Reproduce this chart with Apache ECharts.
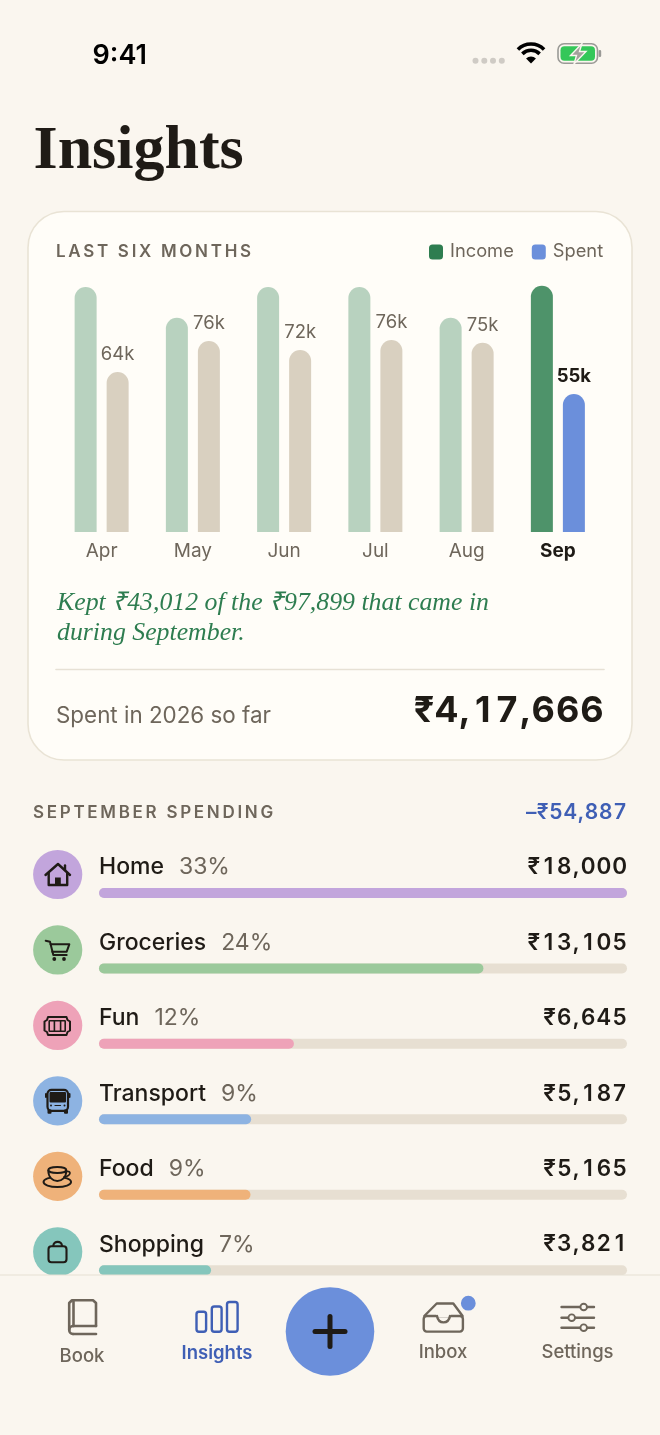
<!DOCTYPE html>
<html><head><meta charset="utf-8"><title>Insights</title>
<style>html,body{margin:0;padding:0;background:#FAF6EF}#c{width:660px;height:1435px}</style>
<script src="https://cdn.jsdelivr.net/npm/echarts@6/dist/echarts.min.js"></script>
</head><body><div id="c"></div>
<script>
const months = ['Apr','May','Jun','Jul','Aug','Sep'];
const income = [97.4,85.2,97.4,97.4,85.2,97.9];
const spent = [63.6,75.9,72.4,76.3,75.2,54.9];
const categories = ['Home','Groceries','Fun','Transport','Food','Shopping'];
const shares = [33,24,12,9,9,7];
const amounts = [18000,13105,6645,5187,5165,3821];
const amountLabels = ['₹18,000','₹13,105','₹6,645','₹5,187','₹5,165','₹3,821'];
const catColors = ['#C2A5DC','#9BC99B','#EEA2B8','#8DB3E2','#EFB27A','#85C6BC'];

const BG='#FAF6EF',INK='#1F1B16',MUTE='#6E665B',BLUE='#6B8FDB',DEEP='#3F5FB5',GREEN='#2E7D50',TRACK='#E7DFD2';
const F='Inter, sans-serif';

// Tracking for the caps headings; tabular figures with tracking for the money amounts
const rawFill = CanvasRenderingContext2D.prototype.fillText;
CanvasRenderingContext2D.prototype.fillText = function(t,x,y,m){
  if(/^[A-Z ]{8,}$/.test(t)){
    this.letterSpacing='2.7px';
    rawFill.call(this,t,x,y);
    this.letterSpacing='0px';
    return;
  }
  if(/^[–₹]/.test(t)){
    const big=/3\dpx/.test(this.font);
    const ls=big?0:t[0]==='–'?0.4:0.9, dw=this.measureText('0').width, chars=[...t];
    const adv=chars.map(c=>(/\d/.test(c)?dw:this.measureText(c).width)+ls);
    const total=adv.reduce((a,b)=>a+b,0)-ls;
    const al=this.textAlign;
    let px=al==='right'||al==='end'?x-total:al==='center'?x-total/2:x;
    this.textAlign='left';
    chars.forEach((c,i)=>{
      const w=this.measureText(c).width;
      rawFill.call(this,c,px+(adv[i]-ls-w)/2,y);
      px+=adv[i];
    });
    this.textAlign=al;
    return;
  }
  return m===undefined ? rawFill.call(this,t,x,y) : rawFill.call(this,t,x,y,m);
};

const els=[];
function add(o,z){o.z=z===undefined?50:z;els.push(o);return o;}
function txt(text,x,y,font,fill,align,z){
  add({type:'text',silent:true,style:{text,x,y,font,fill,textAlign:align||'left',align:align||'left',textVerticalAlign:'middle',verticalAlign:'middle'}},z);
}
function st(c,w){return {fill:'none',stroke:c,lineWidth:w||2,lineCap:'round',lineJoin:'round'};}
function poly(pts,c,w,z){add({type:'polyline',silent:true,shape:{points:pts},style:st(c,w)},z);}
function line(a,b,c,d,col,w,z){add({type:'line',silent:true,shape:{x1:a,y1:b,x2:c,y2:d},style:st(col,w)},z);}
function box(x,y,w,h,r,c,lw,z){add({type:'rect',silent:true,shape:{x,y,width:w,height:h,r},style:st(c,lw)},z);}
function solid(x,y,w,h,r,c,z){add({type:'rect',silent:true,shape:{x,y,width:w,height:h,r},style:{fill:c}},z);}
function disc(x,y,r,c,z){add({type:'circle',silent:true,shape:{cx:x,cy:y,r},style:{fill:c}},z);}
function curve(a,b,c,d,e,f,g,h,col,w,z,fill){const s=st(col,w);if(fill)s.fill=fill;add({type:'bezierCurve',silent:true,shape:{x1:a,y1:b,cpx1:c,cpy1:d,cpx2:e,cpy2:f,x2:g,y2:h},style:s},z);}

// Card
add({type:'rect',silent:true,shape:{x:28,y:211.5,width:604,height:548.5,r:36},style:{fill:'#FFFDF8',stroke:'#E9E3D5',lineWidth:1.6}},0);
// Status bar
txt('9:41',92.5,55.5,'600 27px '+F,'#000');
[475.5,484.3,493,501.8].forEach(x=>disc(x,60.8,3,'#CFCBC5'));
[18.5,12.2].forEach(r=>add({type:'arc',silent:true,shape:{cx:531,cy:62.5,r,startAngle:-Math.PI*0.75,endAngle:-Math.PI*0.25,clockwise:true},style:{fill:'none',stroke:'#000',lineWidth:3.6}}));
add({type:'sector',silent:true,shape:{cx:531,cy:63.5,r:7,r0:0,startAngle:-Math.PI*0.75,endAngle:-Math.PI*0.25,clockwise:true},style:{fill:'#000'}});
box(558,43.8,39.5,19.5,6,'#9A9A96',1.6);
solid(560.5,46.3,34.5,14.5,4,'#34C759');
solid(598.6,50,2.6,7,1.3,'#9A9A96');
add({type:'polygon',silent:true,shape:{points:[[582,43.5],[570.5,55.5],[576.5,55.5],[574,64],[586,51.5],[579.5,51.5]]},style:{fill:'#A3A19C',stroke:'#FAF6EF',lineWidth:1.4}});
// Headings
txt('Insights',33.5,152,'bold 62px "Liberation Serif", serif',INK);
txt('LAST SIX MONTHS',56,251.5,'600 17px '+F,MUTE);
txt('Kept ₹43,012 of the ₹97,899 that came in',57,603,'italic 25.8px "Liberation Serif", serif',GREEN);
txt('during September.',57,633,'italic 25.8px "Liberation Serif", serif',GREEN);
line(56,669.5,604,669.5,'#E7E1D5',1.6);
txt('Spent in 2026 so far',56,716,'400 22.4px '+F,MUTE);
txt('₹4,17,666',604,711,'700 36px '+F,INK,'right');
txt('SEPTEMBER SPENDING',33,812.5,'600 17px '+F,MUTE);
txt('–₹54,887',627,812.5,'600 21px '+F,DEEP,'right');

// Row icons
for(let i=0;i<6;i++) disc(57.7,874.5+75.45*i,24.6,catColors[i],5);
// home
poly([[45.5,875],[58,864],[70,875]],INK,2.4,6);line(65,865.5,65,870,INK,2.4,6);
poly([[48.7,873],[48.7,885],[67.2,885],[67.2,873]],INK,2.4,6);solid(55,877.5,5.8,7.5,0,INK,6);
// cart
poly([[45.7,940.7],[50,941.7],[53.3,955],[66.7,955]],INK,2,6);
poly([[50.6,944.3],[69.3,944.3],[66.7,951.7],[52.3,951.7]],INK,2,6);
disc(54.3,959,1.9,INK,6);disc(64,959,1.9,INK,6);
// ticket
add({type:'polygon',silent:true,shape:{points:[[48,1017],[66.5,1017],[67.5,1020],[70,1021.5],[70,1030.5],[67.5,1032],[66.5,1035],[48,1035],[47,1032],[44.5,1030.5],[44.5,1021.5],[47,1020]]},style:st(INK,2)},6);
box(49.2,1020.8,16,10.5,0.5,INK,1.6,6);line(54.4,1021,54.4,1031,INK,1.6,6);line(60.6,1021,60.6,1031,INK,1.6,6);
// bus
box(47.5,1089.8,20.5,21,4,INK,2.2,6);solid(49.5,1092,16.5,10.5,1,INK,6);
solid(47.5,1109.5,4,4.2,1,INK,6);solid(64,1109.5,4,4.2,1,INK,6);
solid(45,1093,2,5,1,INK,6);solid(68.5,1093,2,5,1,INK,6);
disc(51,1105.5,1,INK,6);disc(64.5,1105.5,1,INK,6);line(55,1105.5,60.5,1105.5,INK,1.2,6);
// cup
add({type:'ellipse',silent:true,shape:{cx:57.3,cy:1182,rx:13.8,ry:5},style:st(INK,1.9)},6);
curve(48.3,1170.5,48.3,1184.5,66.3,1184.5,66.3,1170.5,INK,1.9,7,catColors[4]);
add({type:'ellipse',silent:true,shape:{cx:57.3,cy:1170,rx:9,ry:3},style:st(INK,1.9)},7);
curve(66.3,1171.5,71.5,1170.5,71.5,1175.5,64,1177,INK,1.7,7);
// bag
box(48.5,1246.2,18,16,3,INK,2.1,6);curve(53.3,1246,53.3,1240.5,62,1240.5,62,1246,INK,2.1,6);

// Tab bar sits over the scrolled list
solid(0,1275,660,160,0,BG,100);
line(0,1275,660,1275,'#E6DFD3',1.2,101);
// book
poly([[96,1326],[96,1303],[93,1300.3],[72,1300.3],[69.2,1303],[69.2,1330]],MUTE,2.6,101);
line(73.5,1300.5,73.5,1326,MUTE,2.6,101);
poly([[96,1326],[73,1326]],MUTE,2.6,101);
curve(73,1326,68,1326,68,1334,73,1334,MUTE,2.6,101);
line(73,1334,96,1334,MUTE,2.6,101);
txt('Book',82,1356,'500 18.5px '+F,MUTE,'center',101);
// bars
box(196.5,1311.8,9.6,20,2.5,DEEP,2.4,101);box(211.8,1306.5,9.8,25.3,2.5,DEEP,2.4,101);box(227,1302,10.6,29.8,2.5,DEEP,2.4,101);
txt('Insights',217,1353,'600 18.5px '+F,DEEP,'center',101);
// plus
disc(330,1331.5,44.3,BLUE,101);
line(315,1331.5,345,1331.5,INK,5,102);line(330,1316.5,330,1346.5,INK,5,102);
// inbox
poly([[424.3,1316],[436.7,1303.5],[453.3,1303.5],[462.6,1316]],MUTE,2.4,101);
box(423.7,1316,39.2,15.6,3,MUTE,2.4,101);
add({type:'rect',silent:true,shape:{x:436,y:1314,width:15,height:3},style:{fill:BG}},101);
curve(437,1316,438.5,1324.5,448.5,1324.5,450,1316,MUTE,2.4,101);
disc(468.3,1303.2,7.4,BLUE,102);
txt('Inbox',443,1352,'500 18.5px '+F,MUTE,'center',101);
// sliders
[[1307,583.7],[1317.7,571.7],[1327.7,583.7]].forEach(p=>{
  line(561.5,p[0],594,p[0],MUTE,2.4,101);
  add({type:'circle',silent:true,shape:{cx:p[1],cy:p[0],r:3.3},style:{fill:BG,stroke:MUTE,lineWidth:1.9}},102);
});
txt('Settings',577.5,1352,'500 18.5px '+F,MUTE,'center',101);

const last=months.length-1;
const option={
  backgroundColor:BG,animation:false,
  textStyle:{fontFamily:F},
  legend:{data:['Income','Spent'],left:429,top:243,padding:0,itemWidth:14,itemHeight:15,itemGap:18,icon:'roundRect',selectedMode:false,
    textStyle:{fontSize:18.3,fontFamily:F,color:MUTE,padding:[0,0,0,2]}},
  graphic:{elements:els},
  grid:[
    {left:56,width:547.5,top:280.5,height:251.5},
    {left:99,width:528,top:855.2,height:452.7}
  ],
  xAxis:[
    {gridIndex:0,type:'category',data:months.map((m,i)=>i===last?{value:m,textStyle:{color:INK,fontWeight:700}}:m),
      axisLine:{show:false},axisTick:{show:false},
      axisLabel:{color:MUTE,fontSize:19,fontFamily:F,margin:10,interval:0}},
    {gridIndex:1,type:'value',min:0,max:amounts[0],show:false}
  ],
  yAxis:[
    {gridIndex:0,type:'value',min:0,max:100,show:false},
    {gridIndex:1,type:'category',inverse:true,data:categories.map((c,i)=>({value:c})),position:'left',
      axisLine:{show:false},axisTick:{show:false},
      axisLabel:{inside:true,margin:0,align:'left',verticalAlign:'bottom',interval:0,padding:[0,0,14,0],
        formatter:(v,i)=>'{n|'+v+'}{p|'+shares[i]+'%}',
        rich:{n:{fontSize:23,fontWeight:550,fontFamily:F,color:INK},p:{fontSize:23,fontWeight:400,fontFamily:F,color:MUTE,padding:[0,0,0,15]}}}},
    {gridIndex:1,type:'category',inverse:true,data:amountLabels,position:'right',
      axisLine:{show:false},axisTick:{show:false},
      axisLabel:{inside:true,margin:0,align:'right',verticalAlign:'bottom',interval:0,padding:[0,0,14,0],
        fontSize:22.5,fontWeight:600,fontFamily:F,color:INK}}
  ],
  series:[
    {name:'Income',type:'bar',xAxisIndex:0,yAxisIndex:0,barWidth:22,barGap:'45.5%',
      itemStyle:{color:GREEN,borderRadius:[11,11,0,0]},
      data:income.map((v,i)=>({value:v,itemStyle:{color:i===last?'#4E936A':'#B8D2BF'}}))},
    {name:'Spent',type:'bar',xAxisIndex:0,yAxisIndex:0,barWidth:22,
      itemStyle:{color:BLUE,borderRadius:[11,11,0,0]},
      label:{show:true,position:'top',distance:8,fontSize:18.5,fontFamily:F,color:MUTE,formatter:p=>Math.round(p.value)+'k'},
      data:spent.map((v,i)=>({value:v,itemStyle:{color:i===last?BLUE:'#D9D0C0'},label:i===last?{color:INK,fontWeight:700}:{}}))},
    {name:'September spending',type:'bar',xAxisIndex:1,yAxisIndex:1,barWidth:10,
      showBackground:true,backgroundStyle:{color:TRACK,borderRadius:5},
      itemStyle:{borderRadius:5},
      data:amounts.map((v,i)=>({value:v,itemStyle:{color:catColors[i]}}))}
  ]
};
const chart=echarts.init(document.getElementById('c'),null,{renderer:'canvas'});
chart.setOption(option);
</script></body></html>
